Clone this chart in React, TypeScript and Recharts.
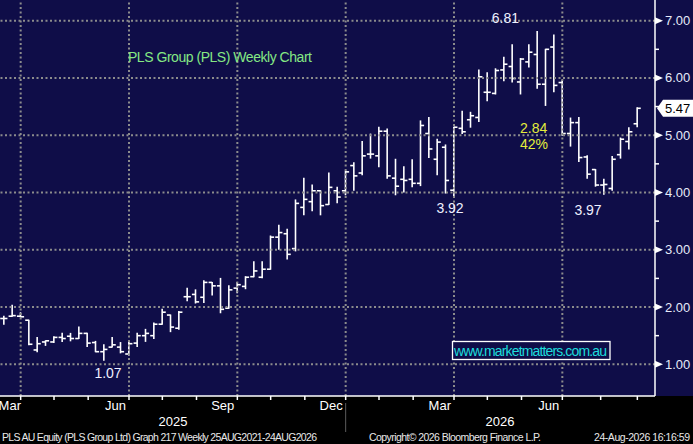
import {
  ComposedChart,
  Bar,
  XAxis,
  YAxis,
  ReferenceLine,
  ReferenceDot,
} from "recharts";

// weekly OHLC
const OPEN = [
  1.8, 1.84, 1.84, 1.77, 1.25, 1.39, 1.39, 1.47, 1.49, 1.45, 1.54, 1.38, 1.22,
  1.3, 1.3, 1.18, 1.37, 1.5, 1.5, 1.7, 1.86, 1.63, 2.18, 2.22, 2.17, 2.43, 2.37,
  1.98, 2.33, 2.36, 2.53, 2.52, 2.66, 3.22, 3.28, 3.02, 3.74, 3.84, 4.03, 3.79,
  4.03, 4.03, 4.47, 4.34, 4.67, 4.64, 5.07, 4.25, 4.23, 4.23, 4.16, 5.03, 4.58,
  4.79, 4.04, 5.12, 5.27, 5.31, 5.75, 5.73, 6.14, 6.2, 5.93, 6.28, 6.41, 5.89,
  6.54, 5.92, 5.03, 5.22, 4.62, 4.4, 4.13, 4.07, 4.66, 4.89, 5.2,
];
const HIGH = [
  1.84, 2.03, 1.9, 1.77, 1.47, 1.41, 1.48, 1.54, 1.54, 1.65, 1.54, 1.4, 1.34,
  1.47, 1.38, 1.4, 1.54, 1.61, 1.72, 1.96, 1.86, 1.92, 2.33, 2.3, 2.46, 2.43,
  2.5, 2.37, 2.43, 2.53, 2.79, 2.79, 3.24, 3.43, 3.36, 3.87, 4.25, 4.13, 4.03,
  4.34, 4.09, 4.37, 4.52, 4.89, 5.02, 5.14, 5.11, 4.58, 4.45, 4.57, 5.25, 5.31,
  4.93, 4.83, 5.14, 5.42, 5.4, 6.14, 6.09, 6.16, 6.36, 6.58, 6.34, 6.58, 6.81,
  6.5, 6.75, 5.95, 5.3, 5.31, 4.64, 4.4, 4.23, 4.63, 4.95, 5.13, 5.48,
];
const LOW = [
  1.7, 1.84, 1.83, 1.34, 1.22, 1.33, 1.38, 1.4, 1.41, 1.45, 1.31, 1.22, 1.07,
  1.3, 1.2, 1.16, 1.31, 1.4, 1.45, 1.7, 1.57, 1.61, 2.11, 2.07, 2.08, 2.21, 1.9,
  1.98, 2.25, 2.32, 2.53, 2.51, 2.66, 3.01, 2.84, 2.98, 3.61, 3.68, 3.61, 3.79,
  3.82, 3.96, 4.04, 4.31, 4.6, 4.45, 4.25, 3.96, 4.01, 4.1, 4.12, 4.61, 4.31,
  3.99, 3.92, 5.03, 5.14, 5.24, 5.6, 5.72, 5.95, 5.93, 5.72, 6.19, 5.82, 5.52,
  5.76, 5.0, 4.81, 4.54, 4.25, 4.11, 3.97, 4.04, 4.6, 4.76, 5.15,
];
const CLOSE = [
  1.8, 1.85, 1.83, 1.35, 1.36, 1.41, 1.47, 1.45, 1.45, 1.54, 1.37, 1.22, 1.26,
  1.34, 1.22, 1.36, 1.5, 1.54, 1.7, 1.91, 1.65, 1.91, 2.18, 2.09, 2.43, 2.37,
  1.96, 2.3, 2.39, 2.52, 2.63, 2.66, 3.22, 3.3, 2.92, 3.81, 3.88, 4.03, 3.77,
  4.09, 3.92, 4.36, 4.29, 4.64, 4.67, 5.07, 4.29, 4.11, 4.21, 4.16, 5.17, 4.76,
  4.88, 4.21, 5.14, 5.06, 5.34, 6.02, 5.75, 6.13, 6.24, 5.99, 6.33, 6.45, 5.89,
  6.5, 5.87, 5.03, 5.22, 4.61, 4.32, 4.13, 4.14, 4.58, 4.93, 5.06, 5.47,
];

// x axis (week index)
const MONTH_TICKS = [
  2, 6, 10.1, 15, 19, 23.1, 28, 32, 36.1, 41, 45, 49.1, 54, 58, 62.1, 67, 71.6,
  76,
];
const QUARTER_TICKS = [2, 15, 28, 41, 54, 67];
const QUARTER_LABELS = ["Mar", "Jun", "Sep", "Dec", "Mar", "Jun"];
const YEAR_BREAK = 41;
const YEAR_LABELS = ["2025", "2026"];

// y axis
const PRICE_TICKS = [1, 1.5, 2, 2.5, 3, 3.5, 4, 4.5, 5, 5.5, 6, 6.5, 7];
const PRICE_GRID = [1, 2, 3, 4, 5, 6, 7];

// price notes on the highs / lows
const NOTE_INDEX = [64, 54, 12, 72];
const NOTE_VALUES = [6.81, 3.92, 1.07, 3.97];
const NOTE_OFFSETS = [
  [-32, -9],
  [-4, 16],
  [4, 18],
  [-16, 21],
];

const data = OPEN.map((o, i) => ({
  i,
  open: o,
  high: HIGH[i],
  low: LOW[i],
  close: CLOSE[i],
  range: [LOW[i], HIGH[i]],
}));

const FONT = '"Liberation Sans", Arial, sans-serif';
const NAVY = "#0f0d48";
const GRID = "#8c8c8c";

const OhlcBar = (props: any) => {
  const { x, y, width, height, payload } = props;
  const top = Math.min(y, y + height);
  const bottom = Math.max(y, y + height);
  const span = payload.high - payload.low || 1;
  const toPx = (v: number) =>
    top + ((payload.high - v) / span) * (bottom - top);
  const cx = x + width / 2;
  const yo = toPx(payload.open);
  const yc = toPx(payload.close);
  return (
    <g stroke="#ffffff" strokeWidth={1.6}>
      <line x1={cx} x2={cx} y1={top - 0.5} y2={bottom + 0.5} />
      <line x1={cx - 3.6} x2={cx} y1={yo} y2={yo} />
      <line x1={cx} x2={cx + 3.6} y1={yc} y2={yc} />
    </g>
  );
};

const XTick = (props: any) => {
  const { x, y, payload } = props;
  const q = QUARTER_TICKS.indexOf(payload.value);
  return (
    <g>
      <line x1={x} x2={x} y1={y} y2={y + 4} stroke="#fff" strokeWidth={1.5} />
      {q >= 0 && (
        <text
          x={Math.max(x - 3, 21)}
          y={y + 14}
          textAnchor="end"
          fill="#ffffff"
          fontSize={13}
          fontFamily={FONT}
        >
          {QUARTER_LABELS[q]}
        </text>
      )}
      {payload.value === YEAR_BREAK && (
        <line x1={x} x2={x} y1={y + 7} y2={y + 36} stroke="#5c5c5c" />
      )}
    </g>
  );
};

const YTick = (props: any) => {
  const { x, y, payload } = props;
  const v = payload.value;
  if (Number.isInteger(v)) {
    return (
      <g>
        <path d={`M${x},${y - 3.5}L${x + 8},${y}L${x},${y + 3.5}Z`} fill="#fff" />
        <text
          x={x + 10}
          y={y + 4.5}
          fill="#e6ebfa"
          fontSize={13}
          fontFamily={FONT}
        >
          {v.toFixed(2)}
        </text>
      </g>
    );
  }
  return <line x1={x} x2={x + 4} y1={y} y2={y} stroke="#fff" strokeWidth={1.5} />;
};

const NoteLabel = (props: any) => {
  const { viewBox, text, dx, dy } = props;
  const cx = viewBox.x + (viewBox.width || 0) / 2;
  const cy = viewBox.y + (viewBox.height || 0) / 2;
  return (
    <text
      x={cx + dx}
      y={cy + dy}
      textAnchor="middle"
      fill="#eef0ff"
      fontSize={14}
      fontFamily={FONT}
    >
      {text}
    </text>
  );
};

const LastPrice = (props: any) => {
  const { viewBox, text } = props;
  const x = viewBox.x + viewBox.width + 2;
  const y = viewBox.y;
  return (
    <g>
      <path
        d={`M${x},${y}L${x + 6},${y - 8.5}L693,${y - 8.5}L693,${y + 8.5}L${x + 6},${y + 8.5}Z`}
        fill="#ffffff"
      />
      <text x={x + 8} y={y + 5} fill="#000" fontSize={13} fontFamily={FONT}>
        {text}
      </text>
    </g>
  );
};

const last = CLOSE.length - 1;

export default function App() {
  return (
    <div
      style={{
        position: "absolute",
        left: 0,
        top: 0,
        width: 693,
        height: 444,
        background: "#000",
        overflow: "hidden",
      }}
    >
      <div
        style={{
          position: "absolute",
          left: 0,
          top: 0,
          width: 693,
          height: 396,
          background: NAVY,
        }}
      />
      <div style={{ position: "absolute", left: 0, top: 0 }}>
        <ComposedChart
          width={693}
          height={444}
          data={data}
          margin={{ top: 0, right: 0, bottom: 0, left: 0 }}
        >
          <XAxis
            type="number"
            dataKey="i"
            domain={[-0.48, 78.12]}
            allowDataOverflow
            ticks={MONTH_TICKS}
            interval={0}
            height={48}
            tickSize={0}
            tickMargin={0}
            tickLine={false}
            axisLine={{ stroke: "#ffffff", strokeWidth: 1.5 }}
            tick={<XTick />}
          />
          <YAxis
            orientation="right"
            type="number"
            domain={[0.4465, 7.361]}
            allowDataOverflow
            ticks={PRICE_TICKS}
            interval={0}
            width={38}
            tickSize={0}
            tickMargin={0}
            tickLine={false}
            axisLine={{ stroke: "#ffffff", strokeWidth: 1.5 }}
            tick={<YTick />}
          />
          {PRICE_GRID.map((v) => (
            <ReferenceLine
              key={`h-${v}`}
              y={v}
              stroke={GRID}
              strokeWidth={2}
              strokeDasharray="2 2.5"
            />
          ))}
          {QUARTER_TICKS.map((q) => (
            <ReferenceLine
              key={`v-${q}`}
              x={q}
              stroke={GRID}
              strokeWidth={2}
              strokeDasharray="2 2.5"
            />
          ))}
          <Bar
            dataKey="range"
            barSize={8}
            isAnimationActive={false}
            shape={<OhlcBar />}
          />
          {NOTE_INDEX.map((idx, k) => (
            <ReferenceDot
              key={`n-${k}`}
              x={idx}
              y={NOTE_VALUES[k]}
              r={0}
              fill="none"
              stroke="none"
              label={
                <NoteLabel
                  text={NOTE_VALUES[k].toFixed(2)}
                  dx={NOTE_OFFSETS[k][0]}
                  dy={NOTE_OFFSETS[k][1]}
                />
              }
            />
          ))}
          <ReferenceLine
            y={CLOSE[last]}
            stroke="none"
            strokeOpacity={0}
            label={<LastPrice text={CLOSE[last].toFixed(2)} />}
          />
        </ComposedChart>
      </div>
      <svg
        width={693}
        height={444}
        style={{ position: "absolute", left: 0, top: 0, pointerEvents: "none" }}
        fontFamily={FONT}
      >
        <text x={128} y={61.5} fill="#84e884" fontSize={14} textLength={184}>
          PLS Group (PLS) Weekly Chart
        </text>
        <text x={520} y={132.5} fill="#e4ec3c" fontSize={14}>
          2.84
        </text>
        <text x={520} y={149} fill="#e4ec3c" fontSize={14}>
          42%
        </text>
        <rect
          x={452.5}
          y={341.5}
          width={157.5}
          height={18}
          fill={NAVY}
          stroke="#ffffff"
          strokeWidth={1.3}
        />
        <text x={454} y={355.5} fill="#1edcdc" fontSize={14} textLength={153}>
          www.marketmatters.com.au
        </text>
        <text x={173} y={426} fill="#ffffff" fontSize={13} textAnchor="middle">
          {YEAR_LABELS[0]}
        </text>
        <text x={500} y={426} fill="#ffffff" fontSize={13} textAnchor="middle">
          {YEAR_LABELS[1]}
        </text>
        <text x={2} y={441} fill="#e8e8e8" fontSize={10.5} textLength={315}>
          PLS AU Equity (PLS Group Ltd) Graph 217 Weekly 25AUG2021-24AUG2026
        </text>
        <text x={369} y={441} fill="#e8e8e8" fontSize={10.5} textLength={172}>
          Copyright© 2026 Bloomberg Finance L.P.
        </text>
        <text x={594} y={441} fill="#e8e8e8" fontSize={10.5} textLength={96}>
          24-Aug-2026 16:16:59
        </text>
      </svg>
    </div>
  );
}
